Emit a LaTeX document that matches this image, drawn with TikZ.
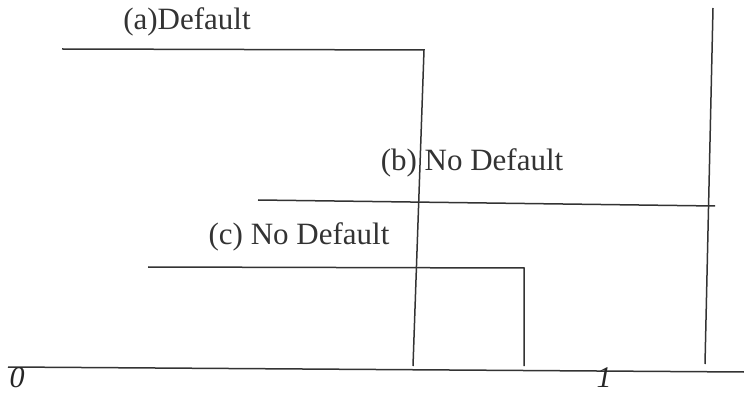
\documentclass[tikz,border=0pt]{standalone}
\usepackage{fontspec}
\setmainfont{Liberation Serif}
\begin{document}
\begin{tikzpicture}[x=1pt,y=-1pt,
  ln/.style={line width=1.5pt,draw=black!80},
  lbl/.style={font=\fontsize{31}{36}\selectfont,text=black!80,inner sep=0pt,anchor=base},
  num/.style={font=\fontsize{30}{36}\selectfont\itshape,text=black!85,inner sep=0pt,anchor=base}]
\useasboundingbox (0,0) rectangle (744,395);
% axis
\coordinate (ax0) at (8,367);
\coordinate (ax1) at (744,372);
\draw[ln] (ax0) -- (ax1);
\node[num] (zero) at (17,387) {0};
\node[num] (one) at (604,387) {1};
% (a)
\coordinate (a0) at (62,49);
\coordinate (a1) at (424,50);
\coordinate (a2) at (413,366);
\draw[ln] (a0) -- (a1) -- (a2);
\node[lbl] (la) at (187,30) {(a)Default};
% (b)
\coordinate (b0) at (258,200);
\coordinate (b1) at (715,206);
\coordinate (b2) at (713,8);
\coordinate (b3) at (705,364);
\draw[ln] (b0) -- (b1);
\draw[ln] (b2) -- (b3);
\node[lbl] (lb) at (472,171) {(b) No Default};
% (c)
\coordinate (c0) at (148,267);
\coordinate (c1) at (524,268);
\coordinate (c2) at (524,366);
\draw[ln] (c0) -- (c1) -- (c2);
\node[lbl] (lc) at (299,245) {(c) No Default};
\end{tikzpicture}
\end{document}
